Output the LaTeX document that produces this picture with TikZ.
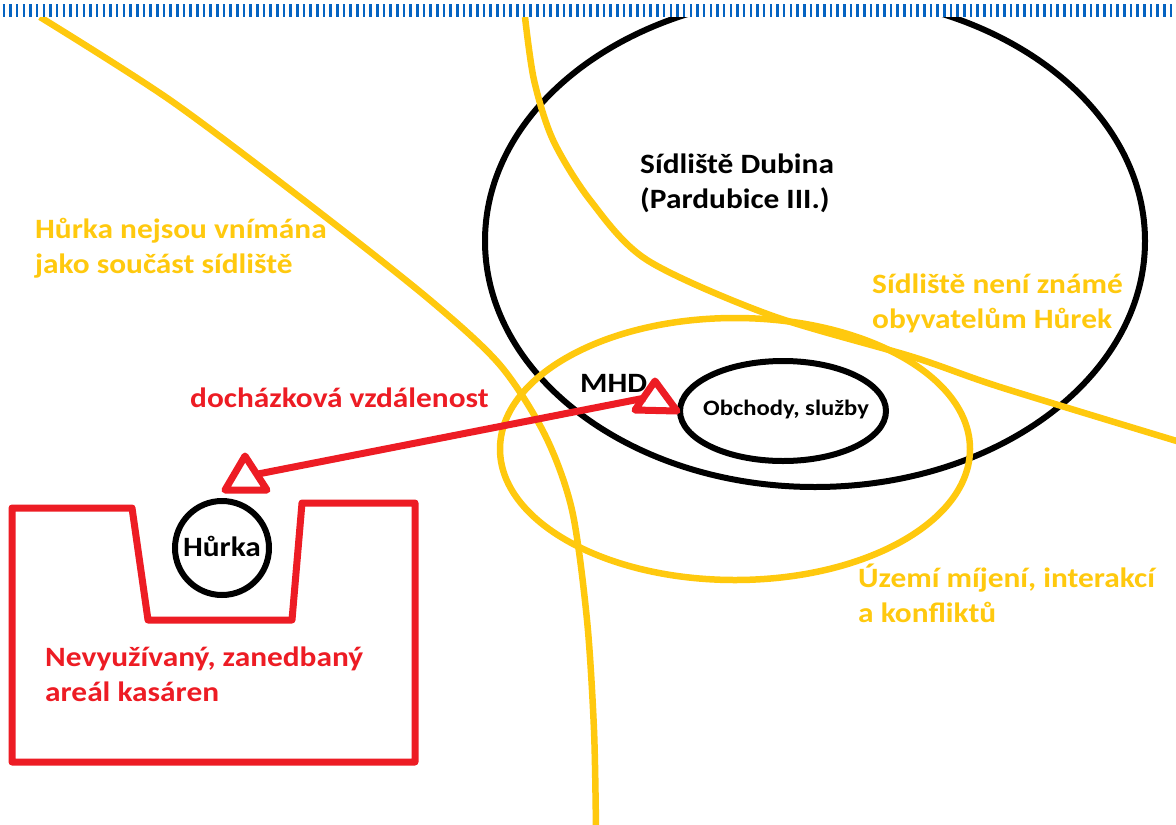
\documentclass[tikz,border=0pt]{standalone}
\usepackage{fontspec}
\setmainfont{Carlito}[FakeStretch=1.12]
\usetikzlibrary{shapes.geometric}
\definecolor{gold}{HTML}{FFC90E}
\definecolor{pred}{HTML}{ED1C24}
\definecolor{stripeblue}{HTML}{0563C1}
\begin{document}
\begin{tikzpicture}[x=1pt,y=-1pt,
  lbl/.style={inner sep=0pt,anchor=base west,align=left,font=\fontsize{28}{35}\selectfont\bfseries},
  smalllbl/.style={inner sep=0pt,font=\fontsize{22}{26}\selectfont\bfseries},
  blackline/.style={draw=black,line width=6pt},
  goldline/.style={draw=gold,line width=6.5pt},
  redline/.style={draw=pred,line width=7pt,line join=round,line cap=round},
  ring/.style={ellipse,blackline,inner sep=0pt}]
\useasboundingbox (0,0) rectangle (1176,825);
\fill[white] (0,0) rectangle (1176,825);

% big black ellipse: Sidliste Dubina
\node[ring,minimum width=660pt,minimum height=492pt] (dubina) at (815,241) {};
% shops
\node[ring,minimum width=206pt,minimum height=100pt] (shops) at (783,411) {};
% Hurka circle
\node[ring,minimum width=94pt,minimum height=94pt] (hurka) at (222,548) {};

% yellow curves
\draw[goldline] plot[smooth] coordinates {(40,17) (170,100) (310,205) (430,300) (500,365) (545,435) (572,510) (587,620) (594,730) (596,830)};
\draw[goldline] plot[smooth] coordinates {(525,17) (534,80) (553,140) (590,200) (647,260) (770,315) (913,357) (1000,387) (1180,442)};
% yellow ellipse
\node[ellipse,goldline,inner sep=0pt,minimum width=470pt,minimum height=262pt] (zone) at (735,449) {};

% red area (kasarny)
\draw[redline] (12,508) -- (132,508) -- (148,620) -- (292,620) -- (302,503) -- (415,503) -- (415,762) -- (12,762) -- cycle;

% triangles and walking distance connector
\draw[redline] (245,456) -- (267,490) -- (225,490) -- cycle;
\draw[redline] (655,381) -- (677,411) -- (635,410) -- cycle;
\coordinate (triA) at (258,474);
\coordinate (triB) at (645,398);
\draw[redline,line cap=butt] (triA) -- (triB);

% texts (multi-line nodes: base = last line baseline)
\node[lbl,text=gold] (t1) at (35,273) {Hůrka nejsou vnímána\\jako součást sídliště};
\node[lbl,text=black] (t2) at (640,208) {Sídliště Dubina\\(Pardubice III.)};
\node[lbl,text=gold] (t3) at (872,328) {Sídliště není známé\\obyvatelům Hůrek};
\node[lbl,text=gold] (t4) at (858,622) {Území míjení, interakcí\\a konfliktů};
\node[lbl,text=pred] (t5) at (190,407) {docházková vzdálenost};
\node[lbl,text=pred] (t6) at (45,701) {Nevyužívaný, zanedbaný\\areál kasáren};
\node[lbl,text=black] (t7) at (580,392) {MHD};
\node[smalllbl,anchor=base west] (t8) at (703,415) {Obchody, služby};
\node[lbl,anchor=base,text=black] (t9) at (222,556) {Hůrka};

% top stripe
\fill[white] (0,0) rectangle (1176,17);
\draw[stripeblue,line width=13pt,dash pattern=on 2.6pt off 4.07pt] (2.5,10.5) -- (1176,10.5);
\end{tikzpicture}
\end{document}
